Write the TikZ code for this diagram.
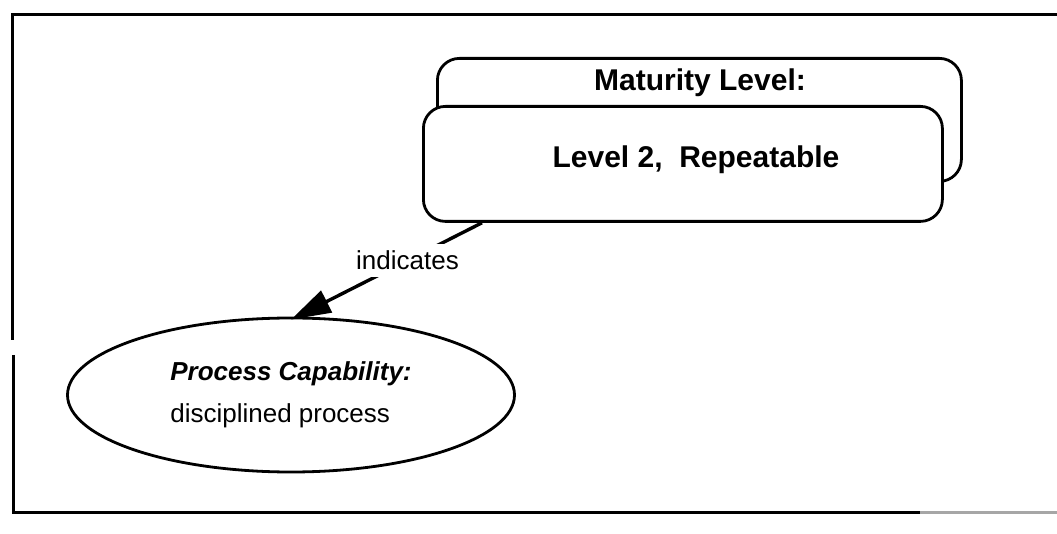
\documentclass[tikz,border=0pt]{standalone}
\usepackage{fontspec}
\setmainfont{Liberation Sans}
\usetikzlibrary{arrows.meta,shapes.geometric}

\begin{document}
\begin{tikzpicture}[x=1pt, y=-1pt,
		levelbox/.style={draw, line width=2.8pt, rounded corners=22pt, fill=white, inner sep=0pt},
		bigtext/.style={font=\fontsize{30}{36}\selectfont\bfseries},
		smalltext/.style={font=\fontsize{26}{31}\selectfont}]
		%%%%% START %%%%%
		\useasboundingbox (0, 0) rectangle (1057, 534);
		
		\draw[line width=3pt] (12, 340) -- (12, 15) -- (1057, 15);
		\draw[line width=3pt] (13, 355) -- (13, 512) -- (920, 512);
		\draw[line width=3pt, color=black!35] (920, 512) -- (1057, 512);
		
		\node[levelbox, minimum width=524, minimum height=123, anchor=north west] (back) at (436, 57) {};
		\node[bigtext, anchor=base] (maturity) at (700, 91) {Maturity Level:};
		\node[levelbox, minimum width=519, minimum height=115, anchor=north west] (front) at (422, 105) {};
		\node[bigtext, anchor=base] (level) at (696, 168) {Level 2,\ \ Repeatable};
		
		\node[draw, ellipse, line width=2.8pt, inner sep=0pt, minimum width=447, minimum height=154,
			align=left, font=\fontsize{26}{42}\selectfont] (cap) at (291, 395)
			{{\bfseries\itshape Process Capability:}\\disciplined process};
		
		\draw[line width=3.4pt, -{Triangle[length=40pt, width=24pt]}] ([xshift=60pt]front.south west)
			-- node[smalltext, fill=white, inner xsep=2pt, inner ysep=7pt, pos=0.39] (ind) {indicates} ([yshift=-3pt]cap.north);
		
		%%%%% END %%%%%
\end{tikzpicture}
\end{document}
